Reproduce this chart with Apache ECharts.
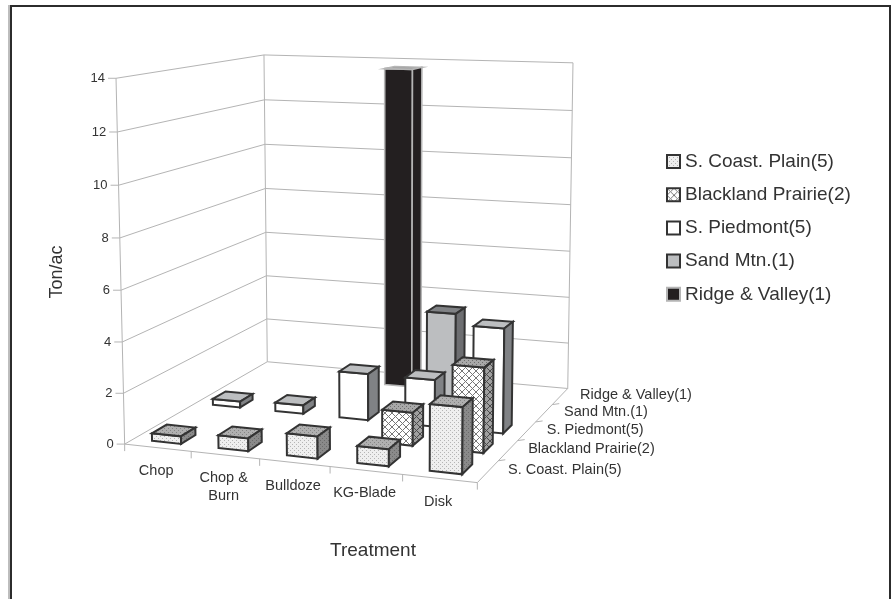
<!DOCTYPE html>
<html><head><meta charset="utf-8"><style>html,body{margin:0;padding:0;background:#fff}#c{width:891px;height:599px}</style>
<script src="https://cdn.jsdelivr.net/npm/echarts@6/dist/echarts.min.js"></script></head>
<body><div id="c"></div><script>
const treatments = ['Chop', 'Chop &\nBurn', 'Bulldoze', 'KG-Blade', 'Disk'];
const regions = ['S. Coast. Plain(5)', 'Blackland Prairie(2)', 'S. Piedmont(5)', 'Sand Mtn.(1)', 'Ridge & Valley(1)'];
const yTicks = [0, 2, 4, 6, 8, 10, 12, 14];
const coastPlain = [0.3, 0.5, 0.85, 0.65, 2.5];
const blacklandPrairie = [null, null, null, 1.3, 3.3];
const piedmont = [0.25, 0.35, 1.9, 1.9, 4.2];
const sandMtn = [null, null, null, 4.0, null];
const ridgeValley = [null, null, 13.7, null, null];
const seriesValues = [coastPlain, blacklandPrairie, piedmont, sandMtn, ridgeValley];

// camera calibration: box corners (x slot, value, z slot) -> screen
const anchors = [
 [0,0,0,125,444],[5,0,0,477,483],[0,0,5,267,362],[5,0,5,568,388],
 [0,14,0,116,78],[0,14,5,264,55],[5,14,5,573,63]];
function solve(A,b){const n=b.length;const M=A.map((r,i)=>r.concat(b[i]));
 for(let i=0;i<n;i++){let p=i;for(let k=i+1;k<n;k++)if(Math.abs(M[k][i])>Math.abs(M[p][i]))p=k;
  [M[i],M[p]]=[M[p],M[i]];
  for(let k=0;k<n;k++){if(k===i)continue;const f=M[k][i]/M[i][i];for(let j=i;j<=n;j++)M[k][j]-=f*M[i][j];}}
 return M.map((r,i)=>r[n]/r[i]);}
const cam=(function(){const rows=[],rhs=[];
 anchors.forEach(([x,y,z,u,v])=>{
  rows.push([x,y,z,1,0,0,0,0,-u*x,-u*y,-u*z]);rhs.push(u);
  rows.push([0,0,0,0,x,y,z,1,-v*x,-v*y,-v*z]);rhs.push(v);});
 const N=11,A=[],b=[];
 for(let i=0;i<N;i++){A.push([]);let s=0;for(let j=0;j<N;j++){let t=0;rows.forEach(r=>t+=r[i]*r[j]);A[i].push(t);}
  rows.forEach((r,k)=>s+=r[i]*rhs[k]);b.push(s);}
 return solve(A,b);})();
function project(x,y,z){const w=cam[8]*x+cam[9]*y+cam[10]*z+1;
 return [(cam[0]*x+cam[1]*y+cam[2]*z+cam[3])/w,(cam[4]*x+cam[5]*y+cam[6]*z+cam[7])/w];}

function tile(size,draw){const c=document.createElement('canvas');c.width=c.height=size;draw(c.getContext('2d'),size);return {image:c,repeat:'repeat'};}
function dots(bg,fg){return tile(4,(g)=>{g.fillStyle=bg;g.fillRect(0,0,4,4);g.fillStyle=fg;g.fillRect(0,0,1,1);g.fillRect(2,2,1,1);});}
function cross(bg,fg){return tile(7,(g,s)=>{g.fillStyle=bg;g.fillRect(0,0,s,s);g.strokeStyle=fg;g.lineWidth=1;
 for(const o of [-s,0,s]){g.beginPath();g.moveTo(o,0);g.lineTo(o+s,s);g.stroke();g.beginPath();g.moveTo(o+s,0);g.lineTo(o,s);g.stroke();}});}
const skins=[
 {front:dots('#efefef','#b5b5b5'),top:dots('#b0b0b0','#858585'),side:dots('#8a8a8a','#6a6a6a'),line:'#333333',lw:2},
 {front:cross('#ffffff','#777777'),top:dots('#a8a8a8','#6e6e6e'),side:cross('#a0a0a0','#4a4a4a'),line:'#333333',lw:2},
 {front:'#ffffff',top:'#bcbec0',side:'#808285',line:'#333333',lw:2},
 {front:'#bcbec0',top:'#808285',side:'#6d6e71',line:'#333333',lw:2},
 {front:'#231f20',top:'#9a9a9a',side:'#231f20',line:'#b5b5b5',lw:1.6}];

const gridLine='#b4b4b4', axisText='#333333', font='"Liberation Sans", Arial, sans-serif';
const barW=0.44, barD=0.46;
function poly(pts,fill,sk){return {type:'polygon',shape:{points:pts},style:{fill:fill,stroke:sk.line,lineWidth:sk.lw,lineJoin:'miter'}};}
function barRender(row){return function(params,api){
 // library scales give the category slot and the value
 const p=api.coord([api.value(0),api.value(1)]);
 const gw=api.getWidth(),gh=api.getHeight();
 const slot=p[0]/gw*treatments.length-0.5, v=(1-p[1]/gh)*14;
 const sk=skins[row];
 const x0=slot+0.5-barW/2,x1=slot+0.5+barW/2,z0=row+0.5-barD/2,z1=row+0.5+barD/2;
 const a=project(x0,0,z0),b=project(x1,0,z0),c=project(x1,v,z0),d=project(x0,v,z0),
       e=project(x1,0,z1),f=project(x1,v,z1),g=project(x0,v,z1);
 return {type:'group',children:[poly([a,b,c,d],sk.front,sk),poly([d,c,f,g],sk.top,sk),poly([b,e,f,c],sk.side,sk)]};
};}
function seg(a,b,w){return {type:'line',shape:{x1:a[0],y1:a[1],x2:b[0],y2:b[1]},style:{stroke:gridLine,lineWidth:w||1}};}
function wallRender(params,api){const v=api.value(0);
 const L=project(0,v,0),M=project(0,v,5),R=project(5,v,5);
 const kids=[seg(L,M),seg(M,R),seg([L[0]-8,L[1]],L),
  {type:'text',style:{text:String(v),x:L[0]-11,y:L[1],align:'right',verticalAlign:'middle',font:'13px '+font,fill:axisText}}];
 if(params.dataIndex===0){
  kids.push(seg(project(0,0,0),project(0,14,0)),seg(project(0,0,5),project(0,14,5)),seg(project(5,0,5),project(5,14,5)),
   seg(project(0,0,0),project(5,0,0)),seg(project(5,0,0),project(5,0,5)));
  for(let i=0;i<=5;i++){const p=project(i,0,0);kids.push(seg(p,[p[0],p[1]+7]));}
  for(let j=1;j<5;j++){const p=project(5,0,j);kids.push(seg(p,[p[0]+7,p[1]-1]));}
 }
 return {type:'group',children:kids};}
function catRender(params,api){const i=params.dataIndex,p=project(i+0.5,0,0);
 return {type:'text',style:{text:treatments[i],x:p[0]-1.5,y:p[1]+14,align:'center',verticalAlign:'top',lineHeight:18,font:'14.5px '+font,fill:axisText}};}
function depthRender(params,api){const j=params.dataIndex,p=project(5,0,j+0.5);
 return {type:'text',style:{text:regions[j],x:p[0]+20,y:p[1]-1,align:'left',verticalAlign:'middle',font:'14.5px '+font,fill:axisText}};}

const series=[
 {type:'custom',name:'Walls',z:1,silent:true,coordinateSystem:'none',data:yTicks.map(v=>[v]),renderItem:wallRender},
 {type:'custom',name:'Treatment labels',z:1,silent:true,coordinateSystem:'none',data:treatments.map((t,i)=>[i]),renderItem:catRender},
 {type:'custom',name:'Region labels',z:1,silent:true,coordinateSystem:'none',data:regions.map((t,i)=>[i]),renderItem:depthRender}
];
regions.forEach((name,row)=>{
 const pts=[];seriesValues[row].forEach((v,i)=>{if(v!==null)pts.push([i,v]);});
 series.push({type:'custom',name:name,z:10-row,silent:true,coordinateSystem:'cartesian2d',clip:false,
  itemStyle:{color:skins[row].front,borderColor:row===4?'#b5b5b5':'#333333',borderWidth:2},
  data:pts,renderItem:barRender(row)});
});
const chart=echarts.init(document.getElementById('c'),null,{renderer:'canvas'});
chart.setOption({
 animation:false,backgroundColor:'#ffffff',
 grid:{left:0,top:0,right:0,bottom:0},
 xAxis:{type:'category',data:treatments,show:false},
 yAxis:{type:'value',min:0,max:14,interval:2,show:false},
 legend:{data:regions,orient:'vertical',left:661,top:147,itemWidth:13,itemHeight:13,itemGap:14.2,icon:'rect',selectedMode:false,
  textStyle:{fontFamily:font,fontSize:19,color:axisText}},
 graphic:[
  {type:'rect',shape:{x:8,y:5,width:2,height:594},style:{fill:'#bdbdbd'},z:0},
  {type:'rect',shape:{x:10,y:5,width:2,height:594},style:{fill:'#2c2c2c'},z:0},
  {type:'rect',shape:{x:10,y:5,width:881,height:2},style:{fill:'#2c2c2c'},z:0},
  {type:'rect',shape:{x:889,y:5,width:2,height:594},style:{fill:'#2c2c2c'},z:0},
  {type:'text',x:57,y:272,rotation:Math.PI/2,style:{text:'Ton/ac',font:'18px '+font,fill:axisText,align:'center',verticalAlign:'middle'}},
  {type:'text',x:373,y:551,style:{text:'Treatment',font:'19px '+font,fill:axisText,align:'center',verticalAlign:'middle'}}
 ],
 series:series
});
</script></body></html>
